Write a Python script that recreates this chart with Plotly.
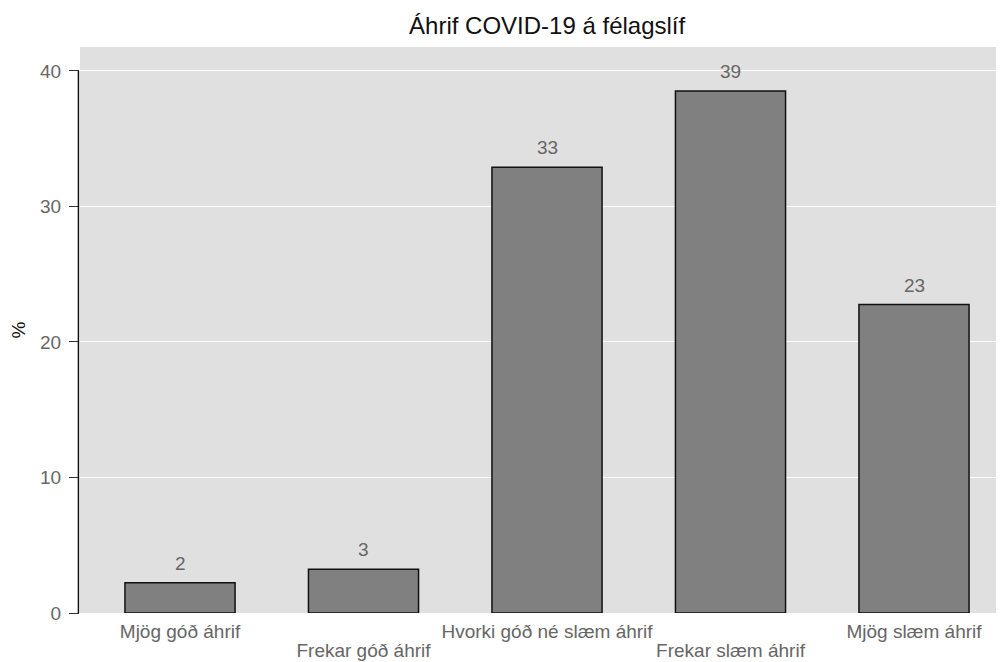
import plotly.graph_objects as go

categories = ["Mjög góð áhrif", "Frekar góð áhrif", "Hvorki góð né slæm áhrif",
              "Frekar slæm áhrif", "Mjög slæm áhrif"]
values = [2.24, 3.22, 32.9, 38.52, 22.76]
y_ticks = [0, 10, 20, 30, 40]
title = "Áhrif COVID-19 á félagslíf"
y_title = "%"

FONT = "Liberation Sans, Arial, sans-serif"
xpos = list(range(len(categories)))
even = [i for i in xpos if i % 2 == 0]
odd = [i for i in xpos if i % 2 == 1]

fig = go.Figure()
fig.add_trace(go.Bar(
    x=xpos, y=values, width=0.6,
    marker=dict(color="#808080", line=dict(color="#111111", width=1.5)),
    hoverinfo="skip", showlegend=False,
))
# invisible trace to activate the second (staggered) x axis
fig.add_trace(go.Scatter(x=[xpos[0]], y=[0], xaxis="x2", mode="markers",
                         marker=dict(opacity=0), hoverinfo="skip", showlegend=False))

for xi, v in zip(xpos, values):
    fig.add_annotation(x=xi, y=v, text=str(round(v)), showarrow=False,
                       yanchor="bottom", yshift=7,
                       font=dict(family=FONT, size=19, color="#666666"))

# y axis line only over the data range
fig.add_shape(type="line", xref="paper", yref="y", x0=-0.0017, x1=-0.0017,
              y0=0, y1=40, line=dict(color="#111111", width=1.5), layer="above")

fig.update_layout(
    width=1004, height=662,
    margin=dict(l=72, r=9, t=39, b=57),
    paper_bgcolor="white", plot_bgcolor="#e0e0e0",
    font=dict(family=FONT, size=19, color="#666666"),
    title=dict(text=title, x=0.537, xanchor="center", y=0.974, yanchor="middle",
               font=dict(size=24, color="#111111")),
    xaxis=dict(range=[-0.545, 4.485], tickmode="array", tickvals=even,
               ticktext=[categories[i] for i in even], showgrid=False, zeroline=False,
               showline=False, ticks="", automargin=False, ticklabelstandoff=5,
               tickfont=dict(size=19, color="#666666")),
    xaxis2=dict(range=[-0.545, 4.485], overlaying="x", side="bottom", anchor="y",
                tickmode="array", tickvals=odd, ticktext=[categories[i] for i in odd],
                showgrid=False, zeroline=False, showline=False, ticks="",
                automargin=False, ticklabelstandoff=24,
                tickfont=dict(size=19, color="#666666")),
    yaxis=dict(range=[0, 41.77], tickmode="array", tickvals=y_ticks,
               showgrid=True, gridcolor="white", gridwidth=1,
               zeroline=True, zerolinecolor="white", zerolinewidth=1,
               showline=False, ticks="outside", ticklen=10, tickcolor="#333333",
               tickwidth=1.2, automargin=False, ticklabelstandoff=4,
               tickfont=dict(size=19, color="#666666"),
               title=dict(text=y_title, standoff=12, font=dict(size=19, color="#111111"))),
    bargap=0.4,
)

fig.write_html("out.html")
